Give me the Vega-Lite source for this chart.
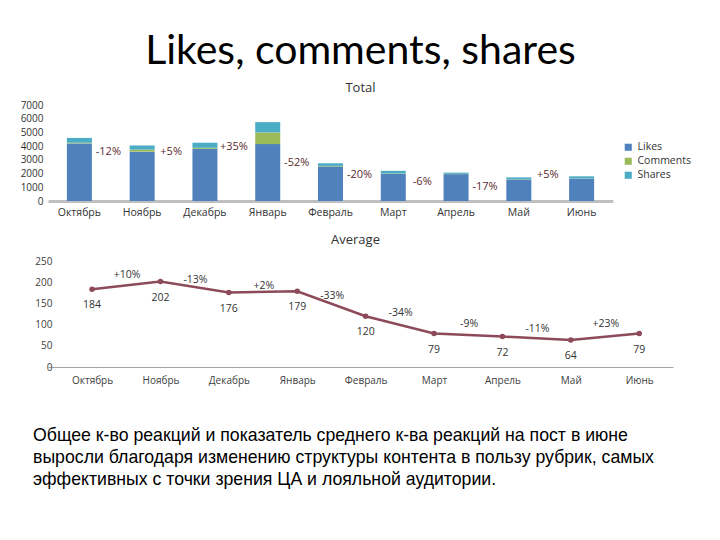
{
  "$schema": "https://vega.github.io/schema/vega-lite/v6.json",
  "background": "white",
  "padding": {"left": 20, "top": 31, "right": 5, "bottom": 5},
  "config": {"view": {"stroke": null}, "font": "Open Sans", "axis": {"labelOverlap": false, "labelSeparation": 0}},
  "title": {
    "text": ["Общее к-во реакций и показатель среднего к-ва реакций на пост в июне", "выросли благодаря изменению структуры контента в пользу рубрик, самых", "эффективных с точки зрения ЦА и лояльной аудитории."],
    "orient": "bottom", "anchor": "start", "font": "Liberation Sans", "fontSize": 17.7, "fontWeight": "normal",
    "lineHeight": 22, "color": "#000000", "offset": 42, "dx": 13
  },
  "spacing": 16,
  "vconcat": [
    {
      "width": 565,
      "height": 96,
      "title": {
        "text": "Likes, comments, shares", "subtitle": "Total",
        "font": "Lato", "fontSize": 41, "fontWeight": "normal", "color": "#000000",
        "subtitleFont": "Open Sans", "subtitleFontSize": 13, "subtitleColor": "#333333", "subtitlePadding": 9,
        "anchor": "middle", "dx": 30, "offset": 4
      },
      "layer": [
        {
          "data": {"values": [
            {"month": "Октябрь", "type": "Likes", "k": 1, "value": 4200},
            {"month": "Октябрь", "type": "Comments", "k": 2, "value": 50},
            {"month": "Октябрь", "type": "Shares", "k": 3, "value": 350},
            {"month": "Ноябрь", "type": "Likes", "k": 1, "value": 3600},
            {"month": "Ноябрь", "type": "Comments", "k": 2, "value": 150},
            {"month": "Ноябрь", "type": "Shares", "k": 3, "value": 300},
            {"month": "Декабрь", "type": "Likes", "k": 1, "value": 3800},
            {"month": "Декабрь", "type": "Comments", "k": 2, "value": 80},
            {"month": "Декабрь", "type": "Shares", "k": 3, "value": 370},
            {"month": "Январь", "type": "Likes", "k": 1, "value": 4150},
            {"month": "Январь", "type": "Comments", "k": 2, "value": 850},
            {"month": "Январь", "type": "Shares", "k": 3, "value": 750},
            {"month": "Февраль", "type": "Likes", "k": 1, "value": 2520},
            {"month": "Февраль", "type": "Comments", "k": 2, "value": 40},
            {"month": "Февраль", "type": "Shares", "k": 3, "value": 190},
            {"month": "Март", "type": "Likes", "k": 1, "value": 1980},
            {"month": "Март", "type": "Comments", "k": 2, "value": 30},
            {"month": "Март", "type": "Shares", "k": 3, "value": 190},
            {"month": "Апрель", "type": "Likes", "k": 1, "value": 1960},
            {"month": "Апрель", "type": "Comments", "k": 2, "value": 20},
            {"month": "Апрель", "type": "Shares", "k": 3, "value": 90},
            {"month": "Май", "type": "Likes", "k": 1, "value": 1560},
            {"month": "Май", "type": "Comments", "k": 2, "value": 20},
            {"month": "Май", "type": "Shares", "k": 3, "value": 140},
            {"month": "Июнь", "type": "Likes", "k": 1, "value": 1620},
            {"month": "Июнь", "type": "Comments", "k": 2, "value": 20},
            {"month": "Июнь", "type": "Shares", "k": 3, "value": 160}
          ]},
          "mark": {"type": "bar", "size": 25},
          "encoding": {
            "x": {
              "field": "month", "type": "nominal",
              "scale": {"domain": ["Октябрь", "Ноябрь", "Декабрь", "Январь", "Февраль", "Март", "Апрель", "Май", "Июнь"]},
              "axis": {"title": null, "labelAngle": 0, "ticks": false, "domainColor": "#BFBFBF", "domainWidth": 3,
                       "labelFontSize": 10.5, "labelPadding": 6, "labelColor": "#333333"}
            },
            "y": {
              "field": "value", "type": "quantitative", "stack": "zero",
              "scale": {"domain": [0, 7000]},
              "axis": {"title": null, "values": [0, 1000, 2000, 3000, 4000, 5000, 6000, 7000],
                       "format": "d", "labelOverlap": false, "grid": false,
                       "domain": false, "ticks": false, "labelFontSize": 10, "labelColor": "#333333",
                       "labelPadding": 5, "minExtent": 28}
            },
            "color": {
              "field": "type", "type": "nominal",
              "scale": {"domain": ["Likes", "Comments", "Shares"], "range": ["#4F81BD", "#9BBB59", "#4BACC6"]},
              "legend": {"orient": "none", "legendX": 575, "legendY": 37, "title": null, "symbolType": "square",
                         "symbolSize": 50, "labelFontSize": 10.5, "labelColor": "#333333", "rowPadding": 3,
                         "padding": 0, "symbolStrokeWidth": 0}
            },
            "order": {"field": "k", "type": "quantitative"}
          }
        },
        {
          "data": {"values": [
            {"from": "Октябрь", "label": "-12%", "at": 3600},
            {"from": "Ноябрь", "label": "+5%", "at": 3600},
            {"from": "Декабрь", "label": "+35%", "at": 3970},
            {"from": "Январь", "label": "-52%", "at": 2740},
            {"from": "Февраль", "label": "-20%", "at": 1880},
            {"from": "Март", "label": "-6%", "at": 1370},
            {"from": "Апрель", "label": "-17%", "at": 1010},
            {"from": "Май", "label": "+5%", "at": 1880}
          ]},
          "mark": {"type": "text", "dx": 29, "fontSize": 11, "color": "#5A2A2E", "font": "Open Sans"},
          "encoding": {
            "x": {"field": "from", "type": "nominal",
                  "axis": {"title": null, "labelAngle": 0, "ticks": false, "domainColor": "#BFBFBF", "domainWidth": 3,
                           "labelFontSize": 10.5, "labelPadding": 6, "labelColor": "#333333"}},
            "y": {"field": "at", "type": "quantitative",
                  "axis": {"title": null, "values": [0, 1000, 2000, 3000, 4000, 5000, 6000, 7000],
                           "format": "d", "labelOverlap": false, "grid": false,
                           "domain": false, "ticks": false, "labelFontSize": 10, "labelColor": "#333333",
                           "labelPadding": 5, "minExtent": 28}},
            "text": {"field": "label", "type": "nominal"}
          }
        }
      ]
    },
    {
      "width": 625,
      "height": 110,
      "title": {"text": "Average", "font": "Open Sans", "fontSize": 13, "fontWeight": "normal", "color": "#333333",
                "anchor": "middle", "dx": -5, "offset": 9},
      "layer": [
        {
          "data": {"values": [
            {"month": "Октябрь", "avg": 184},
            {"month": "Ноябрь", "avg": 202},
            {"month": "Декабрь", "avg": 176},
            {"month": "Январь", "avg": 179},
            {"month": "Февраль", "avg": 120},
            {"month": "Март", "avg": 79},
            {"month": "Апрель", "avg": 72},
            {"month": "Май", "avg": 64},
            {"month": "Июнь", "avg": 79}
          ]},
          "layer": [
            {
              "mark": {"type": "line", "color": "#8C4A5A", "strokeWidth": 2.5,
                       "point": {"color": "#8C4A5A", "size": 30, "filled": true}},
              "encoding": {
                "x": {"field": "month", "type": "nominal",
                      "scale": {"domain": ["Октябрь", "Ноябрь", "Декабрь", "Январь", "Февраль", "Март", "Апрель", "Май", "Июнь"],
                                "padding": 0.569, "align": 0.566},
                      "axis": {"title": null, "labelAngle": 0, "ticks": false, "domainColor": "#A6A6A6", "domainWidth": 1,
                               "labelFontSize": 10, "labelPadding": 8, "labelColor": "#404040"}},
                "y": {"field": "avg", "type": "quantitative", "scale": {"domain": [0, 250]},
                      "axis": {"title": null, "values": [0, 50, 100, 150, 200, 250], "labelOverlap": false,
                               "grid": false, "domain": false, "offset": -10,
                               "ticks": false, "labelFontSize": 10, "labelColor": "#404040", "labelPadding": 6,
                               "minExtent": 28}}
              }
            },
            {
              "mark": {"type": "text", "dy": 16, "fontSize": 10.5, "color": "#333333"},
              "encoding": {
                "x": {"field": "month", "type": "nominal",
                      "axis": {"title": null, "labelAngle": 0, "ticks": false, "domainColor": "#A6A6A6", "domainWidth": 1,
                               "labelFontSize": 10, "labelPadding": 8, "labelColor": "#404040"}},
                "y": {"field": "avg", "type": "quantitative",
                      "axis": {"title": null, "values": [0, 50, 100, 150, 200, 250], "labelOverlap": false,
                               "grid": false, "domain": false, "offset": -10,
                               "ticks": false, "labelFontSize": 10, "labelColor": "#404040", "labelPadding": 6,
                               "minExtent": 28}},
                "text": {"field": "avg", "type": "quantitative"}
              }
            }
          ]
        },
        {
          "data": {"values": [
            {"from": "Октябрь", "label": "+10%", "at": 218},
            {"from": "Ноябрь", "label": "-13%", "at": 205},
            {"from": "Декабрь", "label": "+2%", "at": 191},
            {"from": "Январь", "label": "-33%", "at": 168},
            {"from": "Февраль", "label": "-34%", "at": 127},
            {"from": "Март", "label": "-9%", "at": 102},
            {"from": "Апрель", "label": "-11%", "at": 90},
            {"from": "Май", "label": "+23%", "at": 102}
          ]},
          "mark": {"type": "text", "dx": 35, "fontSize": 10.5, "color": "#333333"},
          "encoding": {
            "x": {"field": "from", "type": "nominal",
                  "axis": {"title": null, "labelAngle": 0, "ticks": false, "domainColor": "#A6A6A6", "domainWidth": 1,
                           "labelFontSize": 10, "labelPadding": 8, "labelColor": "#404040"}},
            "y": {"field": "at", "type": "quantitative",
                  "axis": {"title": null, "values": [0, 50, 100, 150, 200, 250], "labelOverlap": false,
                           "grid": false, "domain": false, "offset": -10,
                           "ticks": false, "labelFontSize": 10, "labelColor": "#404040", "labelPadding": 6,
                           "minExtent": 28}},
            "text": {"field": "label", "type": "nominal"}
          }
        }
      ]
    }
  ]
}
